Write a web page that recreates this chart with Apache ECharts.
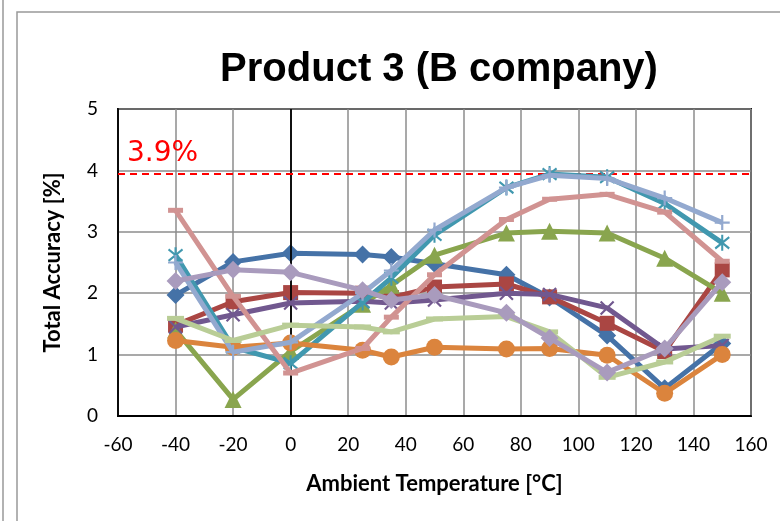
<!DOCTYPE html>
<html><head><meta charset="utf-8">
<script src="https://cdn.jsdelivr.net/npm/echarts@6/dist/echarts.min.js"></script>
<style>html,body{margin:0;padding:0;background:#fff}#c{width:780px;height:521px}</style>
</head><body><div id="c"></div>
<script>
const temps = [-40,-20,0,25,35,50,75,90,110,130,150];
const s1 = [1.97,2.51,2.65,2.63,2.59,2.48,2.30,1.93,1.31,0.45,1.18];
const s2 = [1.48,1.86,2.01,2.00,1.93,2.10,2.15,1.94,1.51,1.05,2.38];
const s3 = [1.40,0.27,1.05,1.82,2.13,2.62,2.98,3.01,2.98,2.57,2.00];
const s4 = [1.45,1.65,1.84,1.87,1.84,1.89,2.00,1.98,1.76,1.09,1.15];
const s5 = [2.62,1.12,0.86,1.85,2.25,2.95,3.72,3.94,3.89,3.46,2.82];
const s6 = [1.23,1.12,1.19,1.07,0.96,1.12,1.09,1.10,0.99,0.37,1.00];
const s7 = [2.50,1.04,1.20,2.00,2.37,3.03,3.72,3.92,3.87,3.55,3.15];
const s8 = [3.35,1.95,0.70,1.10,1.61,2.30,3.20,3.53,3.61,3.32,2.52];
const s9 = [1.59,1.23,1.48,1.45,1.37,1.58,1.62,1.37,0.63,0.88,1.30];
const s10 = [2.20,2.38,2.34,2.05,1.89,1.97,1.68,1.27,0.71,1.10,2.18];
const limitValue = 3.94;
const limitLabel = '3.9%';
const xTicks = {min:-60, max:160, interval:20};
const yTicks = {min:0, max:5, interval:1};

const X_PATH = 'path://M0,0L10,10M10,0L0,10';
const STAR_PATH = 'path://M0,0L10,10M10,0L0,10M5,-2L5,12';
const PLUS_PATH = 'path://M5,0L5,10M0,5L10,5';

const defs = [
  {d:s1, c:'#4572A7', sym:'diamond', size:18},
  {d:s2, c:'#AA4643', sym:'rect', size:15},
  {d:s3, c:'#89A54E', sym:'triangle', size:17},
  {d:s4, c:'#71588F', sym:X_PATH, size:13, stroke:true},
  {d:s5, c:'#4198AF', sym:STAR_PATH, size:[14,16], stroke:true},
  {d:s6, c:'#DB843D', sym:'circle', size:17},
  {d:s7, c:'#93A9CF', sym:PLUS_PATH, size:15, stroke:true},
  {d:s8, c:'#D19392', sym:'rect', size:[15,5]},
  {d:s9, c:'#B9CD96', sym:'rect', size:[17,5]},
  {d:s10, c:'#A99BBD', sym:'diamond', size:18}
];

const series = defs.map((s,i)=>({
  type:'line',
  name:'S'+(i+1),
  data: temps.map((t,k)=>[t,s.d[k]]),
  symbol:s.sym,
  symbolSize:s.size,
  showAllSymbol:true,
  lineStyle:{color:s.c,width:5},
  itemStyle: s.stroke ? {color:s.c,borderColor:s.c,borderWidth:2.2} : {color:s.c,borderWidth:0},
  z: 3+i,
  animation:false
}));

series.push({
  type:'line', data:[], silent:true, animation:false,
  markLine:{
    silent:true, symbol:['none','none'], animation:false,
    label:{show:false},
    data:[
      [{coord:[0,0],lineStyle:{color:'#000',width:1.8,type:'solid'}},{coord:[0,5]}],
      [{coord:[-60,limitValue],lineStyle:{color:'#FF0000',width:1.8,type:[7,5]}},{coord:[160,limitValue]}]
    ]
  },
  z:2
});

const chart = echarts.init(document.getElementById('c'));
chart.setOption({
  backgroundColor:'#fff',
  animation:false,
  grid:{left:118,right:29,top:109,bottom:105,show:true,borderColor:'#000',borderWidth:1.8},
  title:{text:'Product 3 (B company)',left:434,textAlign:'center',top:45,
    textStyle:{fontFamily:'Liberation Sans',fontWeight:'bold',fontSize:40,color:'#000'}},
  xAxis:{type:'value',min:xTicks.min,max:xTicks.max,interval:xTicks.interval,
    name:'Ambient Temperature [°C]',nameLocation:'middle',nameGap:57,
    nameTextStyle:{fontFamily:'Lato',fontWeight:'bold',fontSize:22,color:'#000'},
    axisLine:{show:true,onZero:false,lineStyle:{color:'#000',width:1.8}},
    axisTick:{show:false},
    axisLabel:{fontFamily:'Lato',fontSize:19,color:'#000',margin:19},
    splitLine:{show:true,lineStyle:{color:'#8c8c8c',width:1.5}}},
  yAxis:{type:'value',min:yTicks.min,max:yTicks.max,interval:yTicks.interval,
    name:'Total Accuracy [%]',nameLocation:'middle',nameGap:54,
    nameTextStyle:{fontFamily:'Lato',fontWeight:'bold',fontSize:22,color:'#000'},
    axisLine:{show:true,onZero:false,lineStyle:{color:'#000',width:1.8}},
    axisTick:{show:false},
    axisLabel:{fontFamily:'Lato',fontSize:19,color:'#000',margin:20},
    splitLine:{show:true,lineStyle:{color:'#8c8c8c',width:1.5}}},
  graphic:[
    {type:'line',shape:{x1:3,y1:0,x2:3,y2:521},style:{stroke:'#999',lineWidth:1.5},silent:true},
    {type:'polyline',shape:{points:[[17,521],[17,12],[780,12]]},style:{stroke:'#999',lineWidth:1.5,fill:null},silent:true},
    {type:'text',left:127,top:140,style:{text:limitLabel,fontFamily:'DejaVu Sans',fontSize:28,fill:'#FF0000'},silent:true,z:50}
  ],
  series:series
});
</script></body></html>
